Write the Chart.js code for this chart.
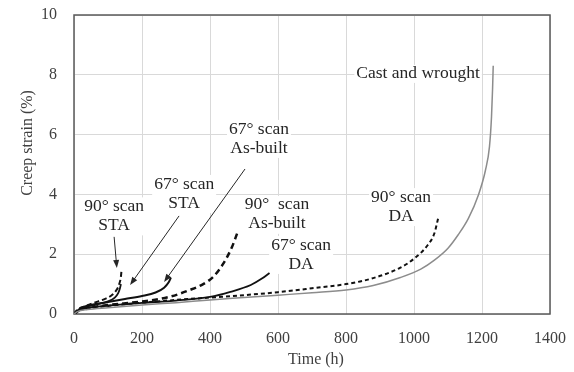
<!DOCTYPE html>
<html>
<head>
	<meta charset="UTF-8">
	<title>Creep strain vs time</title>
	<style>
		body { margin: 0; background: #fff; }
		#wrap { width: 574px; height: 372px; }
	</style>
	<script src="https://cdn.jsdelivr.net/npm/chart.js@4/dist/chart.umd.min.js"></script>
</head>
<body>
	<div id="wrap"><canvas id="canvas" width="574" height="372"></canvas></div>
	<script>
		// curve data (h, %)
		var castHours   = [0, 10, 40, 100, 200, 300, 400, 500, 600, 700, 800, 880, 960, 1020, 1060, 1100, 1130, 1160, 1190, 1210, 1222, 1228, 1231, 1233];
		var castStrain  = [0, 0.08, 0.15, 0.21, 0.3, 0.38, 0.47, 0.55, 0.63, 0.71, 0.8, 0.95, 1.22, 1.5, 1.8, 2.2, 2.65, 3.2, 4.0, 4.8, 5.6, 6.6, 7.5, 8.3];

		var sta90Hours  = [0, 10, 30, 60, 90, 110, 125, 133, 138, 140];
		var sta90Strain = [0, 0.15, 0.25, 0.38, 0.5, 0.62, 0.8, 1.0, 1.25, 1.5];

		var sta67Hours  = [0, 20, 60, 100, 120, 130, 135, 138];
		var sta67Strain = [0, 0.18, 0.3, 0.42, 0.55, 0.7, 0.85, 1.0];

		var ab67Hours   = [0, 20, 50, 100, 150, 200, 240, 265, 278, 285];
		var ab67Strain  = [0, 0.2, 0.3, 0.4, 0.5, 0.6, 0.72, 0.88, 1.05, 1.22];

		var ab90Hours   = [0, 20, 50, 100, 200, 280, 340, 380, 410, 440, 465, 480];
		var ab90Strain  = [0, 0.15, 0.22, 0.3, 0.42, 0.57, 0.8, 1.0, 1.25, 1.7, 2.25, 2.7];

		var da67Hours   = [0, 20, 50, 100, 200, 300, 400, 460, 520, 555, 575];
		var da67Strain  = [0, 0.15, 0.22, 0.28, 0.37, 0.45, 0.57, 0.74, 0.97, 1.2, 1.37];

		var da90Hours   = [0, 10, 40, 100, 200, 300, 400, 500, 600, 700, 800, 880, 960, 1000, 1040, 1060, 1072];
		var da90Strain  = [0, 0.1, 0.18, 0.27, 0.38, 0.47, 0.55, 0.63, 0.73, 0.86, 1.0, 1.2, 1.55, 1.85, 2.3, 2.7, 3.25];

		// text labels: [h, strain, line1, line2]
		var labels = [
			[1012, 8.03, 'Cast and wrought', ''],
			[118, 3.6, '90° scan', 'STA'],
			[324, 4.35, '67° scan', 'STA'],
			[544, 6.19, '67° scan', 'As-built'],
			[597, 3.65, '90°  scan', 'As-built'],
			[668, 2.31, '67° scan', 'DA'],
			[962, 3.91, '90° scan', 'DA']
		];
		// arrows: [fromH, fromS, toH, toS]
		var arrows = [
			[118, 2.58, 126, 1.54],
			[309, 3.28, 165, 0.97],
			[503, 4.85, 265, 1.07]
		];

		function pts(xs, ys) {
			return xs.map(function(x, i){ return { x: x, y: ys[i] }; });
		}

		var serif = "'Liberation Serif', 'Times New Roman', serif";

		var decor = {
			id: 'decor',
			beforeDatasetsDraw: function(chart) {
				var ctx = chart.ctx, xs = chart.scales.x, ys = chart.scales.y, a = chart.chartArea;
				ctx.save();
				ctx.font = '17.5px ' + serif;
				ctx.textAlign = 'center';
				ctx.textBaseline = 'middle';
				labels.forEach(function(l){
					var px = xs.getPixelForValue(l[0]), py = ys.getPixelForValue(l[1]);
					var w = Math.max(ctx.measureText(l[2]).width, ctx.measureText(l[3]).width);
					var h = l[3] ? 36 : 16;
					ctx.fillStyle = '#fff';
					ctx.fillRect(px - w / 2 - 2, py - 9, w + 4, h + 2);
					ctx.fillStyle = '#262626';
					ctx.fillText(l[2], px, py);
					if (l[3]) ctx.fillText(l[3], px, py + 19);
				});
				ctx.strokeStyle = '#262626';
				ctx.fillStyle = '#262626';
				ctx.lineWidth = 1;
				arrows.forEach(function(r){
					var x1 = xs.getPixelForValue(r[0]), y1 = ys.getPixelForValue(r[1]);
					var x2 = xs.getPixelForValue(r[2]), y2 = ys.getPixelForValue(r[3]);
					var ang = Math.atan2(y2 - y1, x2 - x1);
					ctx.beginPath();
					ctx.moveTo(x1, y1);
					ctx.lineTo(x2 - 6 * Math.cos(ang), y2 - 6 * Math.sin(ang));
					ctx.stroke();
					ctx.beginPath();
					ctx.moveTo(x2, y2);
					ctx.lineTo(x2 - 8 * Math.cos(ang) + 3 * Math.sin(ang), y2 - 8 * Math.sin(ang) - 3 * Math.cos(ang));
					ctx.lineTo(x2 - 8 * Math.cos(ang) - 3 * Math.sin(ang), y2 - 8 * Math.sin(ang) + 3 * Math.cos(ang));
					ctx.closePath();
					ctx.fill();
				});
				// frame
				ctx.strokeStyle = '#595959';
				ctx.lineWidth = 1.5;
				ctx.strokeRect(a.left, a.top, a.right - a.left, a.bottom - a.top);
				// axis titles
				ctx.fillStyle = '#404040';
				ctx.font = '16px ' + serif;
				ctx.fillText('Time (h)', (a.left + a.right) / 2 + 4, 360);
				ctx.translate(28, 143);
				ctx.rotate(-Math.PI / 2);
				ctx.fillText('Creep strain (%)', 0, 0);
				ctx.restore();
			}
		};

		function ds(label, xs, ys, color, width, dash) {
			return {
				label: label,
				data: pts(xs, ys),
				showLine: true,
				borderColor: color,
				borderWidth: width,
				borderDash: dash,
				pointRadius: 0,
				cubicInterpolationMode: 'monotone',
				fill: false
			};
		}

		new Chart(document.getElementById('canvas').getContext('2d'), {
			type: 'scatter',
			data: {
				datasets: [
					ds('Cast and wrought', castHours, castStrain, '#8c8c8c', 1.5, []),
					ds('90° scan STA', sta90Hours, sta90Strain, '#111', 2, [5, 3]),
					ds('67° scan STA', sta67Hours, sta67Strain, '#111', 1.8, []),
					ds('67° scan As-built', ab67Hours, ab67Strain, '#111', 2, []),
					ds('90° scan As-built', ab90Hours, ab90Strain, '#111', 2.5, [6, 4]),
					ds('67° scan DA', da67Hours, da67Strain, '#111', 1.8, []),
					ds('90° scan DA', da90Hours, da90Strain, '#111', 2, [4, 3])
				]
			},
			options: {
				responsive: false,
				animation: false,
				layout: { padding: { top: 15, right: 24, left: 0, bottom: 0 } },
				plugins: { legend: { display: false }, tooltip: { enabled: false } },
				scales: {
					x: {
						type: 'linear', min: 0, max: 1400,
						afterFit: function(s){ s.height = 58; s.paddingLeft = 0; s.paddingRight = 0; },
						grid: { color: '#d9d9d9', drawTicks: false },
						border: { display: false },
						ticks: { stepSize: 200, padding: 15, color: '#404040', font: { family: serif, size: 16 },
							callback: function(v){ return String(v); } }
					},
					y: {
						min: 0, max: 10,
						afterFit: function(s){ s.width = 74; s.paddingTop = 0; s.paddingBottom = 0; },
						grid: { color: '#d9d9d9', drawTicks: false },
						border: { display: false },
						ticks: { stepSize: 2, padding: 17, color: '#404040', font: { family: serif, size: 16 } }
					}
				}
			},
			plugins: [decor]
		});
	</script>
</body>
</html>
